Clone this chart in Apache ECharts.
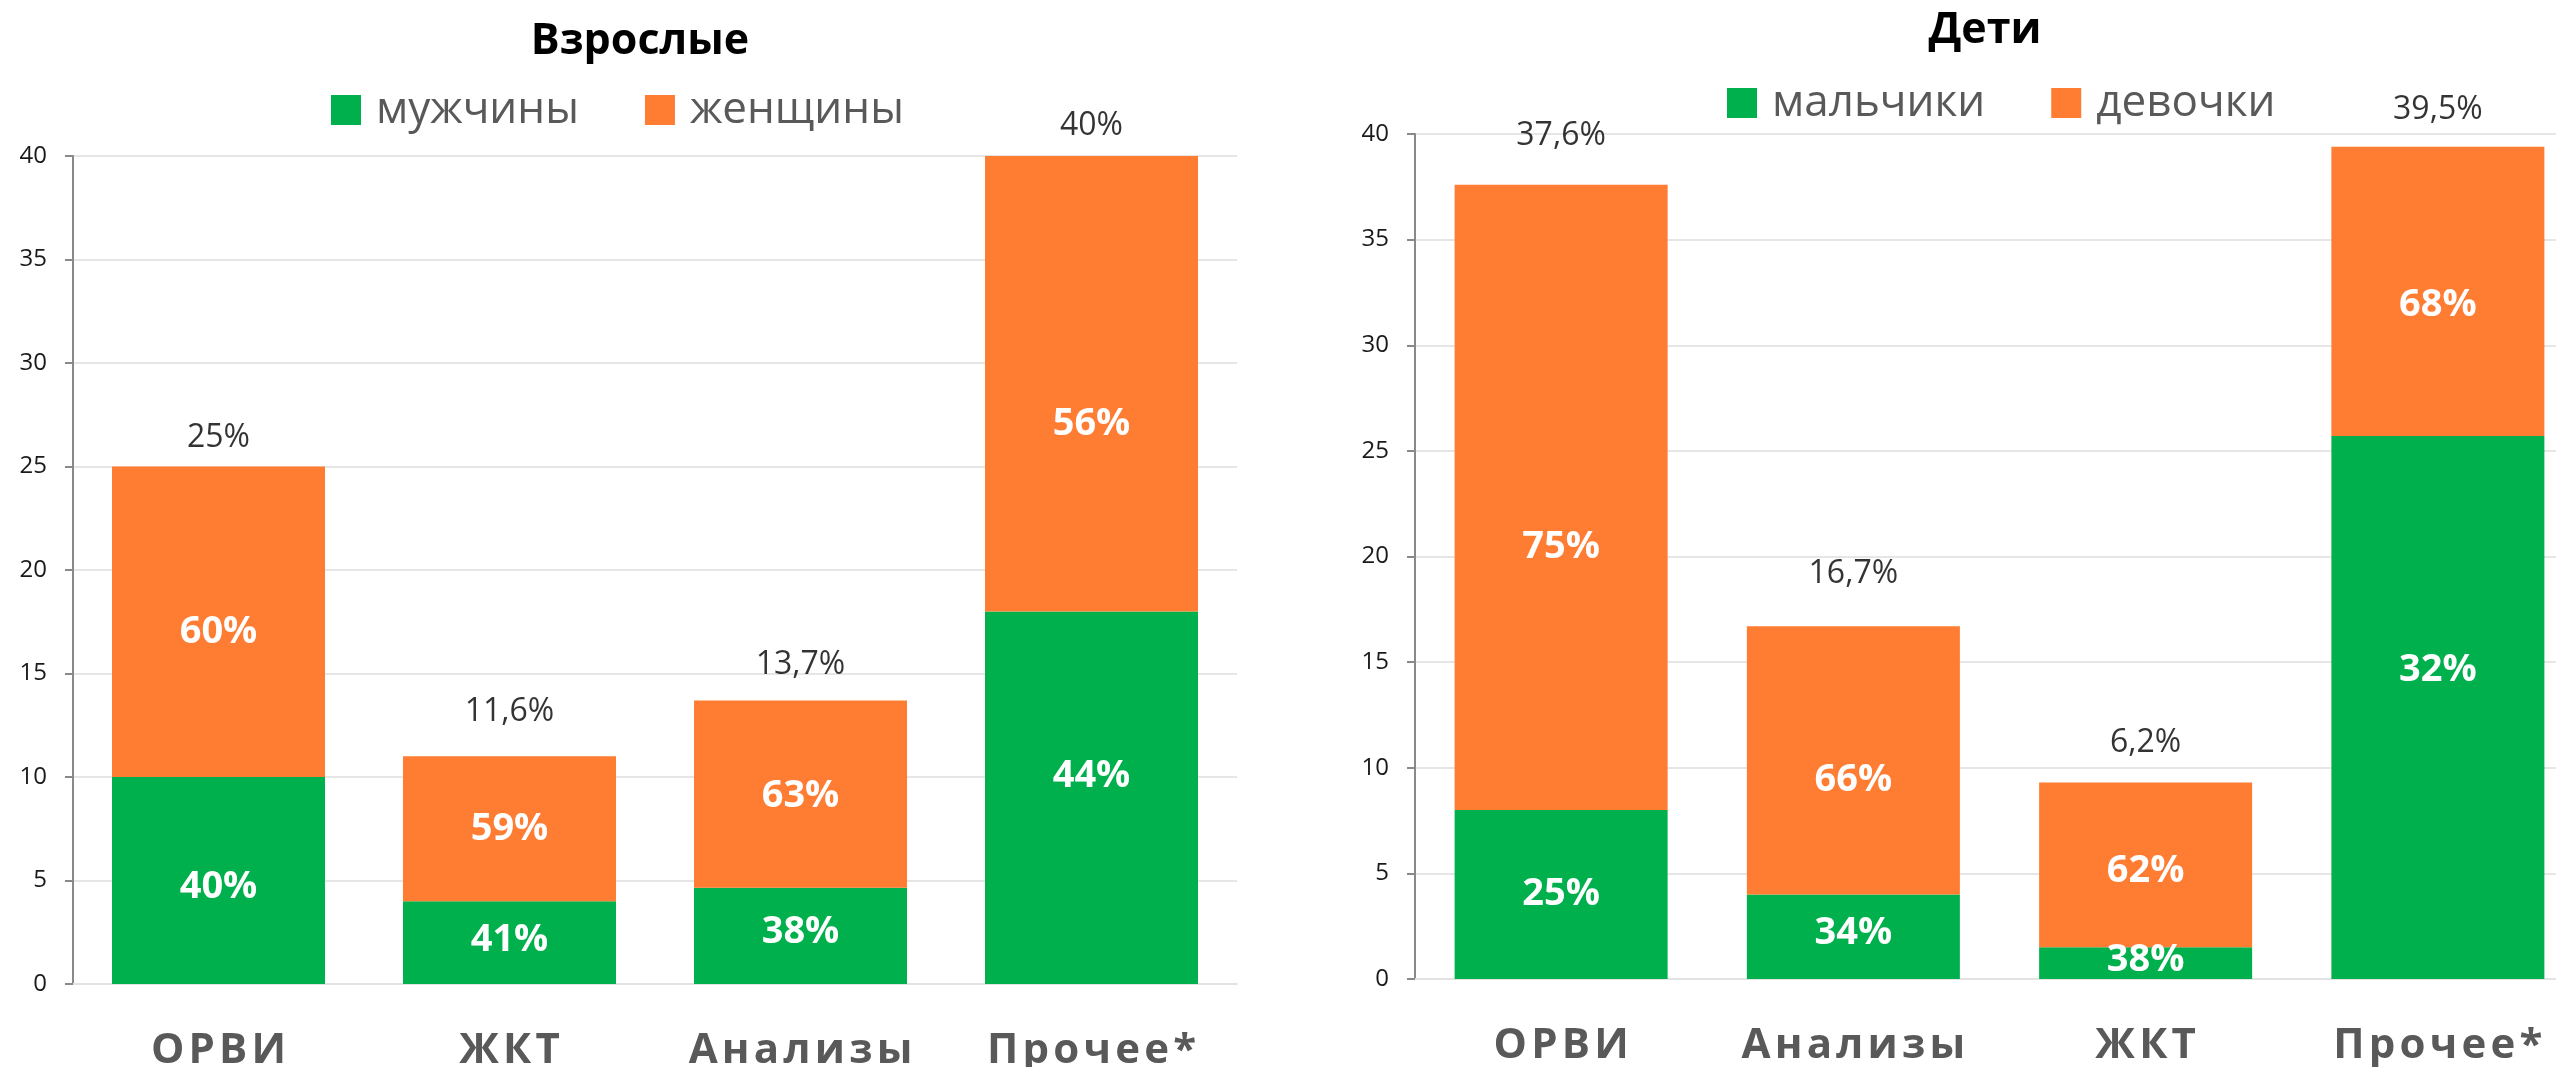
<!DOCTYPE html>
<html>
<head>
<meta charset="utf-8">
<title>Взрослые / Дети</title>
<script src="https://cdn.jsdelivr.net/npm/echarts@6/dist/echarts.min.js"></script>
<style>
  html, body { margin: 0; padding: 0; background: #fff; overflow: hidden; }
  /* правая диаграмма в оригинале обрезана краем картинки */
  #chart { width: 2620px; height: 1067px; }
</style>
</head>
<body>
<div id="chart"></div>
<script>
// Взрослые
const adultCategories = ['ОРВИ', 'ЖКТ', 'Анализы', 'Прочее*']
const adultMen = [10, 4, 4.65, 18]
const adultWomen = [15, 7, 9.05, 22]
const adultMenLabels = ['40%', '41%', '38%', '44%']
const adultWomenLabels = ['60%', '59%', '63%', '56%']
const adultTotalLabels = ['25%', '11,6%', '13,7%', '40%']

// Дети
const childCategories = ['ОРВИ', 'Анализы', 'ЖКТ', 'Прочее*']
const childBoys = [8, 4, 1.5, 25.7]
const childGirls = [29.6, 12.7, 7.8, 13.7]
const childBoysLabels = ['25%', '34%', '38%', '32%']
const childGirlsLabels = ['75%', '66%', '62%', '68%']
const childTotalLabels = ['37,6%', '16,7%', '6,2%', '39,5%']

const yTicks = [0, 5, 10, 15, 20, 25, 30, 35, 40]

// ручные сдвиги подписей (как в исходной диаграмме)
const adultMenShift = [7, -2, -4, -22]
const adultWomenShift = [10, 0, 2, 40]
const adultTotalGap = [13, 28, 20, 14]
const childBoysShift = [0, -4, -3, -37]
const childGirlsShift = [50, 20, 6, 14]
const childTotalGap = [33, 36, 24, 21]

const FONT = 'Open Sans'
const GREEN = '#00B04C'
const ORANGE = '#FF7C33'

const chartInstance = echarts.init(document.getElementById('chart'))

// разрядка букв в подписях категорий
const spaced = (s) => s.split('').join('\u200A')

const xAxisBase = (gridIndex, data) => ({
  type: 'category',
  gridIndex,
  data,
  axisLine: { show: true, lineStyle: { color: '#e3e3e3', width: 2 } },
  axisTick: { show: false },
  axisLabel: {
    interval: 0,
    margin: 46,
    fontFamily: FONT,
    fontSize: 42,
    fontWeight: 'bold',
    color: '#595959',
    formatter: spaced
  }
})

const yAxisBase = (gridIndex) => ({
  type: 'value',
  gridIndex,
  min: yTicks[0],
  max: yTicks[yTicks.length - 1],
  interval: yTicks[1] - yTicks[0],
  axisLine: { show: true, lineStyle: { color: '#898989', width: 2 } },
  axisTick: { show: true, length: 8, lineStyle: { color: '#898989', width: 2 } },
  splitLine: { lineStyle: { color: '#e6e6e6', width: 2 } },
  axisLabel: { margin: 26, fontFamily: FONT, fontSize: 24, color: '#1a1a1a' }
})

const segmentSeries = (name, gridIndex, stack, values, labels, shifts, color) => ({
  name,
  type: 'bar',
  xAxisIndex: gridIndex,
  yAxisIndex: gridIndex,
  stack,
  barWidth: 213,
  itemStyle: { color },
  data: values.map((v, i) => ({ value: v, label: { offset: [0, shifts[i]] } })),
  label: {
    show: true,
    position: 'inside',
    fontFamily: FONT,
    fontSize: 38,
    fontWeight: 'bold',
    color: '#fff',
    formatter: (p) => labels[p.dataIndex]
  }
})

const totalSeries = (gridIndex, a, b, labels, gaps) => ({
  type: 'scatter',
  xAxisIndex: gridIndex,
  yAxisIndex: gridIndex,
  symbolSize: 0,
  silent: true,
  z: 10,
  data: a.map((v, i) => ({ value: v + b[i], label: { distance: gaps[i] } })),
  label: {
    show: true,
    position: 'top',
    fontFamily: FONT,
    fontSize: 32,
    color: '#000',
    formatter: (p) => labels[p.dataIndex]
  }
})

const legendBase = (left, top, names) => ({
  left,
  top,
  padding: 0,
  itemWidth: 30,
  itemHeight: 30,
  itemGap: 66,
  icon: 'rect',
  data: names,
  textStyle: {
    fontFamily: FONT,
    fontSize: 44,
    color: '#595959',
    padding: [0, 0, 0, 10]
  }
})

const option = {
  animation: false,
  title: [
    {
      text: 'Взрослые',
      left: 635,
      top: 15,
      textAlign: 'center',
      textStyle: { fontFamily: FONT, fontSize: 43, fontWeight: 'bold', color: '#000' }
    },
    {
      text: 'Дети',
      left: 1980,
      top: 4,
      textAlign: 'center',
      textStyle: { fontFamily: FONT, fontSize: 43, fontWeight: 'bold', color: '#000' }
    }
  ],
  legend: [
    legendBase(331, 88, ['мужчины', 'женщины']),
    legendBase(1727, 81, ['мальчики', 'девочки'])
  ],
  grid: [
    { left: 73, top: 156, width: 1164, height: 828, outerBoundsMode: 'none' },
    { left: 1415, top: 134, width: 1169, height: 845, outerBoundsMode: 'none' }
  ],
  xAxis: [xAxisBase(0, adultCategories), xAxisBase(1, childCategories)],
  yAxis: [yAxisBase(0), yAxisBase(1)],
  series: [
    segmentSeries('мужчины', 0, 'adult', adultMen, adultMenLabels, adultMenShift, GREEN),
    segmentSeries('женщины', 0, 'adult', adultWomen, adultWomenLabels, adultWomenShift, ORANGE),
    totalSeries(0, adultMen, adultWomen, adultTotalLabels, adultTotalGap),
    segmentSeries('мальчики', 1, 'child', childBoys, childBoysLabels, childBoysShift, GREEN),
    segmentSeries('девочки', 1, 'child', childGirls, childGirlsLabels, childGirlsShift, ORANGE),
    totalSeries(1, childBoys, childGirls, childTotalLabels, childTotalGap)
  ]
}

chartInstance.setOption(option)
</script>
</body>
</html>
